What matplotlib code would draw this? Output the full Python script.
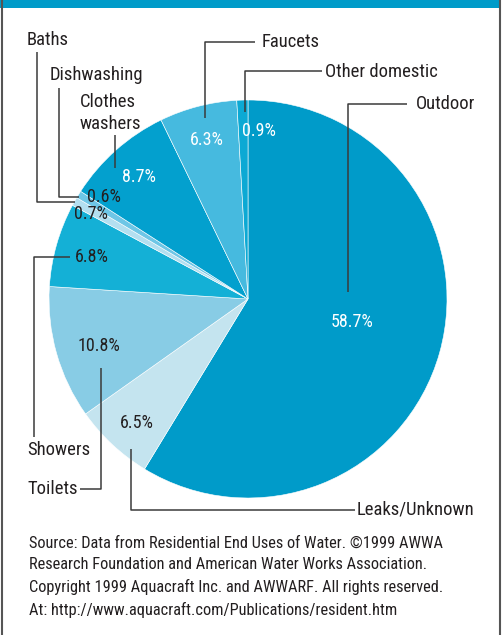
import matplotlib
matplotlib.use("Agg")
import matplotlib.pyplot as plt
from matplotlib import font_manager

W, H = 504, 635

# data, clockwise from 12 o'clock
labels = ["Outdoor", "Leaks/Unknown", "Toilets", "Showers", "Baths",
          "Dishwashing", "Clothes\nwashers", "Faucets", "Other domestic"]
shares = [58.7, 6.5, 10.8, 6.8, 0.7, 0.6, 8.7, 6.3, 0.9]
colors = ["#009bc9", "#c4e4ef", "#88cce5", "#14b0d6", "#b3dff0",
          "#6ec6e6", "#03a0ce", "#46badf", "#0ca9d4"]
pct_white = [True, False, False, False, False, False, True, True, True]

source = ("Source: Data from Residential End Uses of Water. \u00a91999 AWWA\n"
          "Research Foundation and American Water Works Association.\n"
          "Copyright 1999 Aquacraft Inc. and AWWARF. All rights reserved.\n"
          "At: http://www.aquacraft.com/Publications/resident.htm")

# layout (pixel positions, y measured from top)
pct_pos = [(352, 322), (137, 423), (99, 346), (92, 257), (91, 214),
           (104, 197), (139, 177), (207, 140), (259, 131)]
name_pos = [(416, 104), (357, 510), (27, 489), (27, 450), (27, 40),
            (50, 75), (80, 113), (262, 42), (325, 72)]
leaders = [
    [(407, 104), (348, 104), (348, 292)],
    [(355, 510), (131, 510), (131, 449)],
    [(80, 489), (101, 489), (101, 368)],
    [(34, 437), (34, 257), (70, 257)],
    [(37, 52), (37, 202), (75, 202)],
    [(59, 88), (59, 197), (79, 197)],
    [(115, 135), (115, 168)],
    [(255, 42), (205, 42), (205, 118)],
    [(322, 71), (245, 71), (245, 112)],
]


def pick_font():
    for fam in ["Liberation Sans Narrow", "Arial Narrow", "Roboto Condensed"]:
        try:
            font_manager.findfont(font_manager.FontProperties(family=fam),
                                  fallback_to_default=False)
            return {"family": fam}
        except ValueError:
            pass
    return {"family": "DejaVu Sans", "stretch": "condensed"}


font = pick_font()
ink = "#231f20"

fig = plt.figure(figsize=(W / 100, H / 100), dpi=100)
ax = fig.add_axes([0, 0, 1, 1])

ax.pie(shares, colors=colors, startangle=90, counterclock=False,
       center=(248, H - 299), radius=199,
       wedgeprops={"edgecolor": "white", "linewidth": 0.4})
ax.set_xlim(0, W)
ax.set_ylim(0, H)
ax.set_aspect("auto")
ax.axis("off")

for (x, y), v, white in zip(pct_pos, shares, pct_white):
    ax.text(x, H - y, f"{v}%", ha="center", va="center", fontsize=13,
            color="white" if white else ink, **font)

for (x, y), name in zip(name_pos, labels):
    ax.text(x, H - y, name, ha="left", va="center", fontsize=13.4,
            color=ink, linespacing=1.3, **font)

for path in leaders:
    xs = [p[0] for p in path]
    ys = [H - p[1] for p in path]
    ax.plot(xs, ys, color="#3a3a3a", lw=1.1, solid_capstyle="butt")

ax.text(29, H - 536, source, ha="left", va="top", fontsize=11.8,
        color=ink, linespacing=1.53, **font)

# frame and top band
ax.add_patch(plt.Rectangle((0, H - 8), 499, 8, color="#009bc9", lw=0))
ax.plot([2, 2], [0, H], color="#555555", lw=1.5)
ax.plot([500, 500], [0, H], color="#555555", lw=1.5)

fig.savefig("out.png", dpi=100)
